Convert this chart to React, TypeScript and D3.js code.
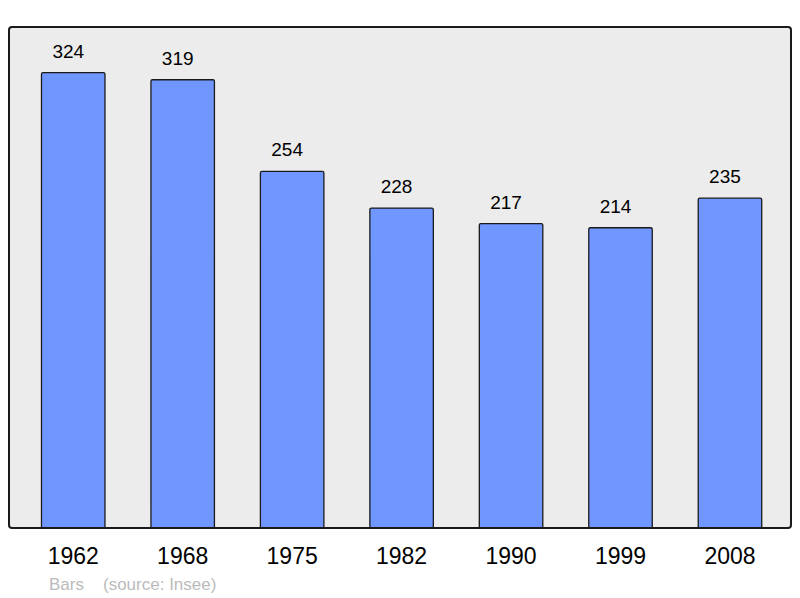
import React from "react";
import * as d3 from "d3";

const years = ["1962", "1968", "1975", "1982", "1990", "1999", "2008"];
const population = [324, 319, 254, 228, 217, 214, 235];
const footerLabel = "Bars";
const sourceLabel = "(source: Insee)";

const W = 800;
const H = 598;
const panel = { x: 9, y: 27, w: 782, h: 501 };

export default function App() {
  const x = d3.scaleBand<string>().domain(years).range([18.5, 784.7]).paddingInner(0.42).paddingOuter(0.21);
  const y = d3.scaleLinear().domain([0, 356.4]).range([529.5, 27]);
  const bw = x.bandwidth();
  const font = "'Liberation Sans', Arial, sans-serif";
  return (
    <svg width={W} height={H} style={{ position: "absolute", left: 0, top: 0, display: "block" }} fontFamily={font}>
      <rect x={0} y={0} width={W} height={H} fill="#ffffff" />
      <defs>
        <clipPath id="pc">
          <rect x={panel.x} y={panel.y} width={panel.w} height={panel.h} rx={3} />
        </clipPath>
      </defs>
      <rect x={panel.x} y={panel.y} width={panel.w} height={panel.h} rx={3} fill="#ececec" />
      <g clipPath="url(#pc)">
        {years.map((yr, i) => {
          const bx = x(yr)!;
          const top = y(population[i]);
          return (
            <rect
              key={yr}
              x={bx}
              y={top}
              width={bw}
              height={y(0) - top + 3}
              rx={1.5}
              fill="#7096ff"
              stroke="#1a1a1a"
              strokeWidth={1.3}
            />
          );
        })}
      </g>
      <rect x={panel.x} y={panel.y} width={panel.w} height={panel.h} rx={3} fill="none" stroke="#1a1a1a" strokeWidth={2} />
      {years.map((yr, i) => (
        <text
          key={"v" + yr}
          x={x(yr)! + bw / 2 - 5}
          y={y(population[i]) - 15}
          textAnchor="middle"
          fontSize={19}
          fill="#000"
        >
          {population[i]}
        </text>
      ))}
      {years.map((yr) => (
        <text key={"t" + yr} x={x(yr)! + bw / 2} y={564} textAnchor="middle" fontSize={23} fill="#000">
          {yr}
        </text>
      ))}
      <text x={49} y={590} fontSize={17} fill="#bbbbbb">
        {footerLabel}
      </text>
      <text x={103} y={590} fontSize={17} fill="#bbbbbb">
        {sourceLabel}
      </text>
    </svg>
  );
}
